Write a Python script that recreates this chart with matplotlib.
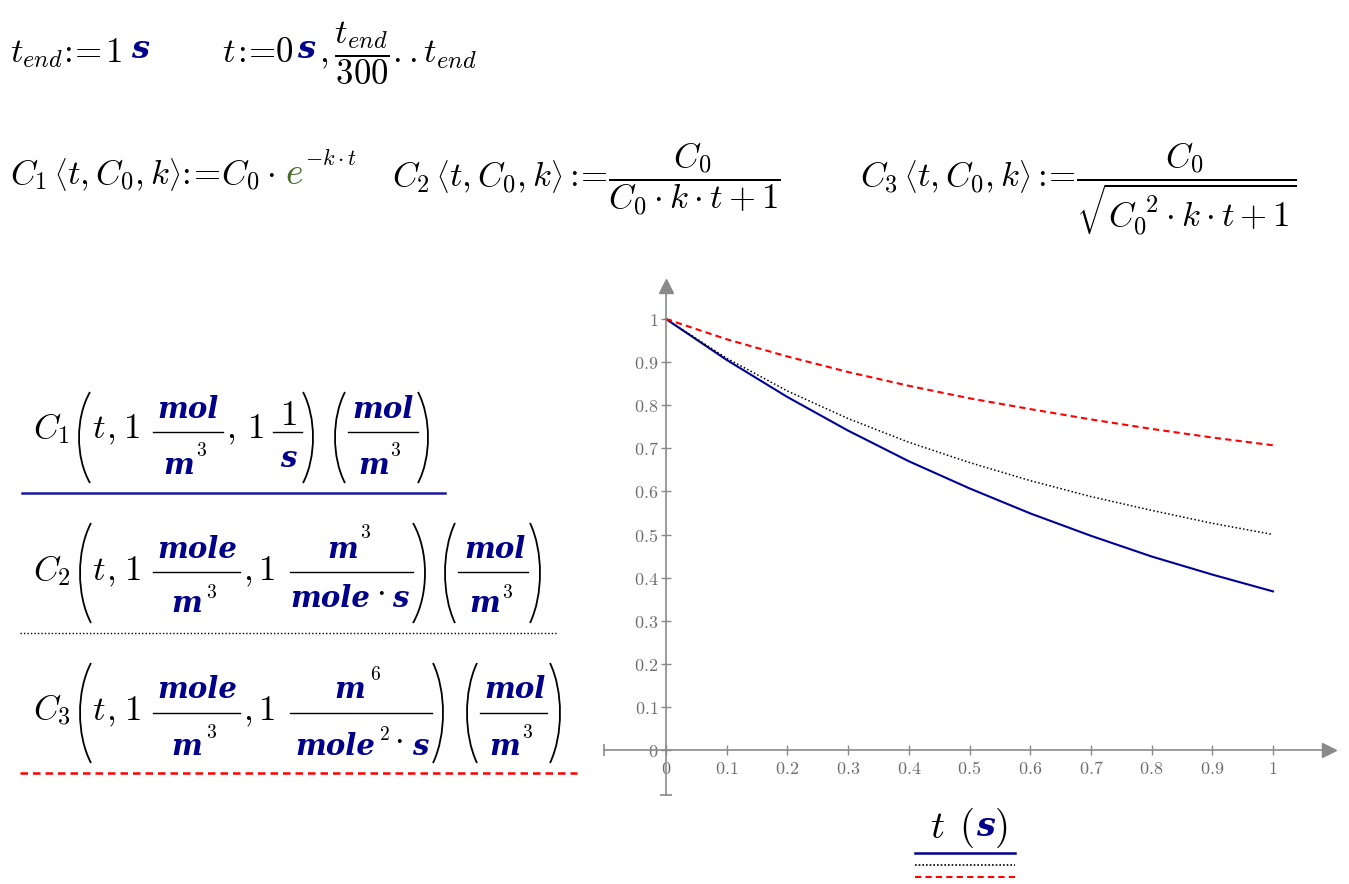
import matplotlib
matplotlib.use("Agg")
import matplotlib.pyplot as plt
from matplotlib.lines import Line2D
from matplotlib.patches import PathPatch
from matplotlib.path import Path
from matplotlib.transforms import Affine2D

plt.rcParams['mathtext.fontset'] = 'cm'

# values (t in s, concentrations in mol/m^3)
t_vals = [0.0, 0.1, 0.2, 0.3, 0.4, 0.5, 0.6, 0.7, 0.8, 0.9, 1.0]
c1_vals = [1.0, 0.905, 0.819, 0.741, 0.670, 0.607, 0.549, 0.497, 0.449, 0.407, 0.368]
c2_vals = [1.0, 0.909, 0.833, 0.769, 0.714, 0.667, 0.625, 0.588, 0.556, 0.526, 0.500]
c3_vals = [1.0, 0.953, 0.913, 0.877, 0.845, 0.816, 0.791, 0.767, 0.745, 0.725, 0.707]
tick_vals = [0.0, 0.1, 0.2, 0.3, 0.4, 0.5, 0.6, 0.7, 0.8, 0.9, 1.0]
tick_labels = ['0', '0.1', '0.2', '0.3', '0.4', '0.5', '0.6', '0.7', '0.8', '0.9', '1']

BLUE = '#00008b'
GREEN = '#4a6b2b'
RED = '#ff0000'
GRAY = '#8a8a8a'
CE = r'\!:\!\!=\!'   # mathcad ":=" without the wide relation spacing

W, H = 1349, 884
fig = plt.figure(figsize=(W / 100, H / 100), dpi=100)
pix = Affine2D().scale(1 / W, -1 / H).translate(0, 1) + fig.transFigure


def put(x, y, s, color='black', size=25, ha='left', va='baseline', **kw):
    fig.text(x, y, s, transform=pix, color=color, fontsize=size, ha=ha, va=va, **kw)


def unit(x, y, s, size=21, ha='center'):
    put(x, y, s, color=BLUE, size=size, ha=ha, family='DejaVu Serif',
        weight='bold', style='italic')


def sup(x, y, s, size=14):
    put(x, y, '$' + s + '$', size=size, ha='center', va='center')


def hline(x0, x1, y, color='black', lw=1.0, **kw):
    fig.add_artist(Line2D([x0, x1], [y, y], transform=pix, color=color, lw=lw, **kw))


def paren(x0, x1, ytop, ybot, left=True):
    # big bracket as a bezier curve, x0..x1 is its horizontal extent
    h = ybot - ytop
    if left:
        edge, tip = x1, x0
    else:
        edge, tip = x0, x1
    c = (tip - 0.25 * edge) / 0.75
    verts = [(edge, ytop), (c, ytop + 0.28 * h), (c, ybot - 0.28 * h), (edge, ybot)]
    path = Path(verts, [Path.MOVETO, Path.CURVE4, Path.CURVE4, Path.CURVE4])
    fig.add_artist(PathPatch(path, transform=pix, fill=False, lw=1.3, color='black'))


# ---- definitions at the top ----
put(10, 62, r'$t_{end}$', size=25)
put(62, 62, r'$' + CE + r'$', size=25)
put(105, 62, r'$1$', size=25)
unit(131, 58, 's', size=23, ha='left')
put(222, 62, r'$t$', size=25)
put(236, 62, r'$' + CE + r'$', size=25)
put(275, 62, r'$0$', size=25)
unit(297, 58, 's', size=23, ha='left')
put(319, 62, r'$,\dfrac{t_{end}}{300}..t_{end}$', size=25)

put(10, 184, r'$C_1\,\left\langle t,C_0,k\right\rangle' + CE + r'C_0\cdot$', size=25)
put(285, 184, r'$e$', color=GREEN, size=27)
put(305, 165, r'$-k\cdot t$', size=16)
put(392, 187, r'$C_2\,\left\langle t,C_0,k\right\rangle\,' + CE + r'\dfrac{C_0}{C_0\cdot k\cdot t+1}$', size=25)
put(860, 187, r'$C_3\,\left\langle t,C_0,k\right\rangle\,' + CE + r'\dfrac{C_0}{\sqrt{C_0^{\ 2}\cdot k\cdot t+1}}$', size=25)

# ---- row 1 : C1 ----
put(33, 438, r'$C_1$')
paren(79, 90, 392, 483, left=True)
put(92, 438, r'$t$')
put(106, 438, r'$,$')
put(123, 438, r'$1$')
hline(153, 223, 432)
unit(188, 418, 'mol')
unit(179, 474, 'm')
sup(201, 451, '3')
put(226, 438, r'$,$')
put(247, 438, r'$1$')
hline(273, 302, 432)
put(288, 425, r'$1$', ha='center')
unit(288, 467, 's')
paren(303, 313, 392, 483, left=False)
paren(335, 345, 392, 483, left=True)
hline(348, 418, 432)
unit(383, 418, 'mol')
unit(374, 474, 'm')
sup(396, 451, '3')
paren(418, 428, 392, 483, left=False)
hline(22, 445, 493, color='#1a1aa0', lw=1.8)

# ---- row 2 : C2 ----
put(33, 580, r'$C_2$')
paren(80, 91, 523, 623, left=True)
put(92, 580, r'$t$')
put(106, 580, r'$,$')
put(124, 580, r'$1$')
hline(153, 240, 572)
unit(197, 558, 'mole')
unit(187, 612, 'm')
sup(211, 593, '3')
put(243, 580, r'$,$')
put(258, 580, r'$1$')
hline(290, 413, 572)
unit(343, 558, 'm')
sup(366, 533, '3')
unit(330, 607, 'mole')
put(380, 600, r'$\cdot$', ha='center')
unit(400, 607, 's')
paren(413, 425, 523, 623, left=False)
paren(445, 455, 523, 623, left=True)
hline(458, 528, 572)
unit(495, 558, 'mol')
unit(485, 612, 'm')
sup(507, 593, '3')
paren(530, 540, 523, 623, left=False)
hline(20, 557, 633, lw=1.0, ls=(0, (1, 1.5)))

# ---- row 3 : C3 ----
put(33, 720, r'$C_3$')
paren(80, 91, 663, 763, left=True)
put(92, 720, r'$t$')
put(106, 720, r'$,$')
put(124, 720, r'$1$')
hline(153, 240, 713)
unit(197, 698, 'mole')
unit(187, 755, 'm')
sup(211, 733, '3')
put(243, 720, r'$,$')
put(258, 720, r'$1$')
hline(290, 432, 713)
unit(350, 698, 'm')
sup(375, 675, '6')
unit(335, 755, 'mole')
sup(384, 735, '2')
put(398, 748, r'$\cdot$', ha='center')
unit(420, 755, 's')
paren(433, 443, 663, 763, left=False)
paren(467, 477, 663, 763, left=True)
hline(480, 547, 713)
unit(515, 698, 'mol')
unit(505, 755, 'm')
sup(527, 733, '3')
paren(550, 560, 663, 763, left=False)
hline(20, 577, 773, color=RED, lw=1.8, ls=(0, (3, 2)))

# ---- the plot ----
x_px0, x_px1 = 666, 1273   # pixel of t=0 and t=1
y_px0, y_px1 = 750, 319    # pixel of C=0 and C=1
sx = x_px1 - x_px0
sy = y_px0 - y_px1
lo, hi = -0.11, 1.11
left = x_px0 + lo * sx
bottom = y_px0 - lo * sy
ax = fig.add_axes([left / W, 1 - bottom / H, (hi - lo) * sx / W, (hi - lo) * sy / H])
ax.set_xlim(lo, hi)
ax.set_ylim(lo, hi)
ax.patch.set_alpha(0)

ax.plot(t_vals, c1_vals, color='#00009a', lw=1.5)
ax.plot(t_vals, c2_vals, color='black', lw=1.1, ls=(0, (1, 1.5)))
ax.plot(t_vals, c3_vals, color=RED, lw=1.5, ls=(0, (3, 2)))

for side in ['top', 'right']:
    ax.spines[side].set_visible(False)
for side in ['left', 'bottom']:
    ax.spines[side].set_position(('data', 0))
    ax.spines[side].set_color(GRAY)
    ax.spines[side].set_linewidth(1.2)
ax.spines['left'].set_bounds(-0.104, 1.07)
ax.spines['bottom'].set_bounds(-0.102, 1.085)
ax.plot(0, 1.077, marker='^', ms=10, color=GRAY, clip_on=False)
ax.plot(1.093, 0, marker='>', ms=10, color=GRAY, clip_on=False)
ax.plot(-0.102, 0, marker='|', ms=8, mew=1.2, color=GRAY, clip_on=False)
ax.plot(0, -0.104, marker='_', ms=8, mew=1.2, color=GRAY, clip_on=False)

ax.set_xticks(tick_vals, [r'$\mathbf{' + s + '}$' for s in tick_labels])
ax.set_yticks(tick_vals, [r'$\mathbf{' + s + '}$' for s in tick_labels])
ax.tick_params(direction='inout', length=7, width=1, color=GRAY, labelcolor='#6e6e6e',
               labelsize=13)
ax.tick_params(axis='x', pad=4)
ax.tick_params(axis='y', pad=2)

# axis label and trace key below the plot
put(930, 838, r'$t$', size=28)
put(959, 838, r'$($', size=28)
unit(985, 836, 's', size=24)
put(994, 838, r'$)$', size=28)
hline(915, 1015, 853, color=BLUE, lw=1.8)
hline(915, 1015, 865, color='black', lw=1.2, ls=(0, (1, 1.2)))
hline(915, 1015, 877, color=RED, lw=1.5, ls=(0, (3, 2)))

fig.savefig('out.png', dpi=100)
